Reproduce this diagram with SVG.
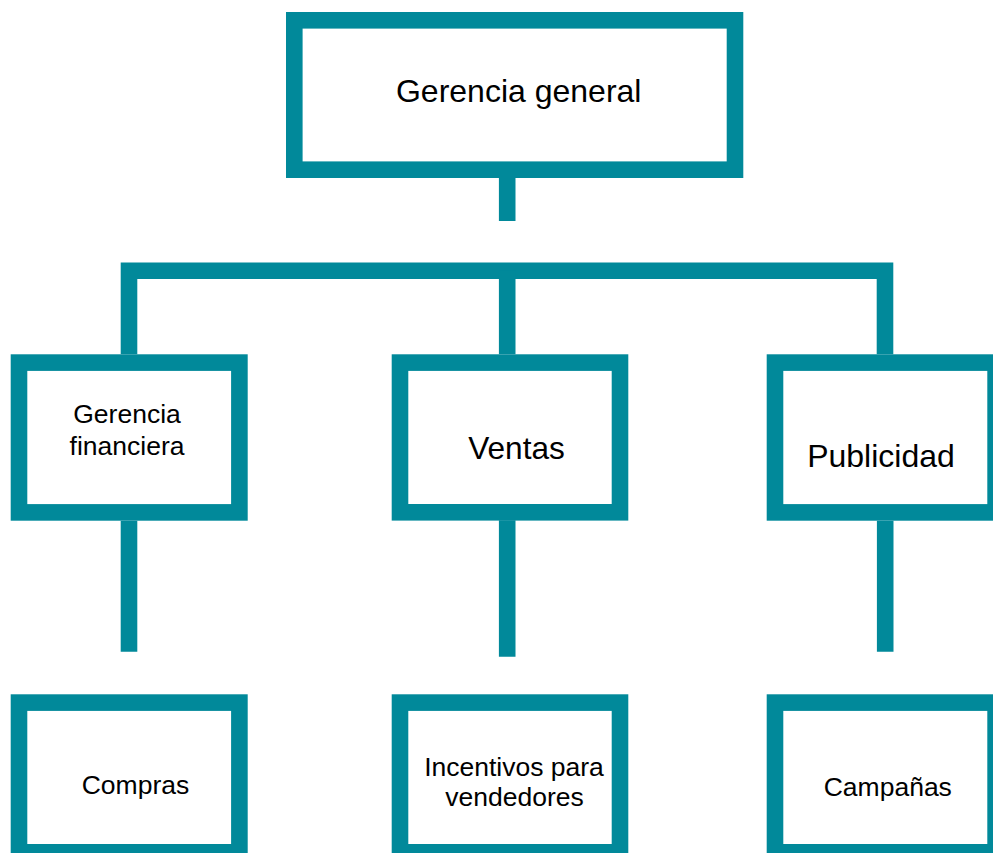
<svg xmlns="http://www.w3.org/2000/svg" width="993" height="853" viewBox="0 0 993 853">
<style>
.box{fill:#ffffff;stroke:#01899a;stroke-width:16.6;stroke-linejoin:miter}
.con{fill:none;stroke:#01899a;stroke-width:16.6;stroke-linecap:butt;stroke-linejoin:miter}
text{font-family:"Liberation Sans",Arial,sans-serif;fill:#000000;text-anchor:middle}
.big{font-size:32px}
.small{font-size:26.5px}
</style>
<rect width="993" height="853" fill="#ffffff"/>
<g id="connectors">
<line class="con" x1="507.2" y1="178" x2="507.2" y2="221"/>
<path class="con" d="M129,354.3 V270.8 H885 V354.3"/>
<line class="con" x1="507.2" y1="270.8" x2="507.2" y2="354.3"/>
<line class="con" x1="129" y1="520.7" x2="129" y2="651.7"/>
<line class="con" x1="507.2" y1="520.3" x2="507.2" y2="656.7"/>
<line class="con" x1="885.2" y1="520.7" x2="885.2" y2="651.7"/>
</g>
<g id="gerencia-general">
<rect class="box" x="294.3" y="20.3" width="440.7" height="149.4"/>
<text class="big" x="518.7" y="101.7">Gerencia general</text>
</g>
<g id="gerencia-financiera">
<rect class="box" x="19" y="362.6" width="220.4" height="149.8"/>
<text class="small" x="127" y="423.3">Gerencia</text>
<text class="small" x="127" y="455">financiera</text>
</g>
<g id="ventas">
<rect class="box" x="400" y="362.6" width="220" height="149.7"/>
<text style="font-size:31.6px" x="516.5" y="459">Ventas</text>
</g>
<g id="publicidad">
<rect class="box" x="775" y="362.6" width="220.6" height="149.8"/>
<text class="big" x="881" y="466.7">Publicidad</text>
</g>
<g id="compras">
<rect class="box" x="19" y="702.6" width="220.4" height="149.7"/>
<text class="small" x="135.5" y="794">Compras</text>
</g>
<g id="incentivos">
<rect class="box" x="400" y="702.6" width="220" height="149.7"/>
<text class="small" x="514" y="775.7">Incentivos para</text>
<text class="small" x="514.5" y="805.7">vendedores</text>
</g>
<g id="campanas">
<rect class="box" x="775" y="702.6" width="220.6" height="149.7"/>
<text class="small" x="887.8" y="795.7">Campañas</text>
</g>
</svg>
